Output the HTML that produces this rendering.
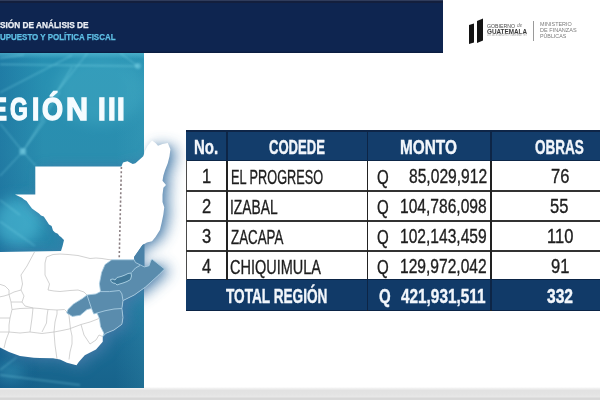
<!DOCTYPE html>
<html><head><meta charset="utf-8">
<style>
*{margin:0;padding:0;box-sizing:border-box}
html,body{width:600px;height:400px;overflow:hidden;background:#fff}
body{position:relative;font-family:"Liberation Sans",Arial,sans-serif}
.abs{position:absolute}
.t{position:absolute;white-space:nowrap;transform-origin:0 0;line-height:1}
</style></head><body>
<div class="abs" style="left:0;top:0;width:443px;height:53px;background:#0e2550"></div>
<div class="abs" style="left:0;top:0;width:443px;height:1px;background:#2f3c5c"></div>
<div class="abs" style="left:0;top:1px;width:443px;height:1.5px;background:#131f3d"></div>
<div class="abs" style="left:0;top:50.5px;width:443px;height:2.5px;background:linear-gradient(180deg,rgba(8,24,56,0) 0%,rgba(8,24,56,0.8) 100%)"></div>
<div class="abs" style="left:0;top:386.6px;width:600px;height:13.4px;background:linear-gradient(180deg,#ffffff 0px,#f2f2f2 1.2px,#e2e2e2 3.5px,#e3e3e3 7px,#e7e7e7 9.5px,#d7d7d7 11.5px,#dadada 14px)"></div>
<svg class="abs" style="left:0;top:0" width="600" height="400" viewBox="0 0 600 400">
<defs>
<filter id="sh" x="-50%" y="-50%" width="200%" height="200%"><feGaussianBlur stdDeviation="7"/></filter>
<filter id="sh2" x="-50%" y="-50%" width="200%" height="200%"><feGaussianBlur stdDeviation="2.5"/></filter>
<filter id="gl" x="-50%" y="-50%" width="200%" height="200%"><feGaussianBlur stdDeviation="1.2"/></filter>
<filter id="gl3" x="-50%" y="-50%" width="200%" height="200%"><feGaussianBlur stdDeviation="7"/></filter>
<clipPath id="pc"><rect x="0" y="53" width="144" height="335"/></clipPath>
<linearGradient id="pg" x1="0" y1="0" x2="0" y2="1">
<stop offset="0" stop-color="#2790b2"/><stop offset="0.3" stop-color="#2a8eaf"/>
<stop offset="0.6" stop-color="#2583a8"/><stop offset="0.85" stop-color="#1b6c95"/><stop offset="1" stop-color="#17638b"/>
</linearGradient>
<linearGradient id="pl" x1="0" y1="0" x2="1" y2="0">
<stop offset="0" stop-color="#0b4a86" stop-opacity="0.28"/><stop offset="0.3" stop-color="#0b4a86" stop-opacity="0"/>
<stop offset="0.8" stop-color="#5fc0d0" stop-opacity="0"/><stop offset="1" stop-color="#5fc0d0" stop-opacity="0.12"/>
</linearGradient>
<linearGradient id="ptop" x1="0" y1="0" x2="0" y2="1"><stop offset="0" stop-color="#6fd0e4" stop-opacity="0.45"/><stop offset="1" stop-color="#6fd0e4" stop-opacity="0"/></linearGradient>
</defs>
<g clip-path="url(#pc)">
<rect x="0" y="53" width="144" height="335" fill="url(#pg)"/>
<rect x="0" y="53" width="144" height="335" fill="url(#pl)"/>
<rect x="0" y="53" width="144" height="6" fill="url(#ptop)"/>
<ellipse cx="100" cy="90" rx="45" ry="35" fill="#5cc4d6" opacity="0.25" filter="url(#gl3)"/>
<ellipse cx="18" cy="222" rx="24" ry="24" fill="#52c8e0" opacity="0.55" filter="url(#gl3)"/>
<ellipse cx="10" cy="372" rx="14" ry="10" fill="#52c8e0" opacity="0.3" filter="url(#gl3)"/>
<g stroke="#8fe6f4" fill="none" stroke-width="0.9" opacity="0.55" filter="url(#gl)">
<line x1="0" y1="92.6" x2="72" y2="55.4"/><line x1="0" y1="58.4" x2="24" y2="54.8"/>
<line x1="0" y1="64.4" x2="138" y2="66.2"/><line x1="138" y1="66.2" x2="120" y2="53"/>
<line x1="87.6" y1="53" x2="50" y2="101"/><line x1="72" y1="67" x2="40" y2="120"/>
<line x1="22.75" y1="151.5" x2="0" y2="123.5"/><line x1="22.75" y1="151.5" x2="45.5" y2="120"/>
<line x1="22.75" y1="151.5" x2="0" y2="176"/><line x1="22.75" y1="151.5" x2="36" y2="166"/>
<line x1="22.75" y1="151.5" x2="60" y2="92"/>
<line x1="0" y1="221.5" x2="35" y2="246"/><line x1="0" y1="200" x2="20" y2="215"/>
<line x1="0" y1="370" x2="17" y2="357"/><line x1="0" y1="375" x2="80" y2="385"/>
</g>
<circle cx="138" cy="66" r="3" fill="#9ff0ff" opacity="0.35" filter="url(#gl)"/>
<circle cx="22.75" cy="151.5" r="3.5" fill="#9ff0ff" opacity="0.4" filter="url(#gl)"/>
</g>
<polygon points="35.30,166.50 121.40,166.50 123.00,162.40 127.50,161.20 132.75,164.10 135.40,163.25 143.25,156.25 145.00,151.00 147.60,145.75 152.00,140.50 155.50,143.00 158.00,145.75 162.50,144.00 167.75,143.00 170.40,149.25 169.50,156.25 167.75,163.25 165.00,170.25 163.40,175.50 162.50,180.75 166.00,185.00 163.40,187.75 162.50,194.75 162.50,202.00 164.25,207.25 163.40,214.25 161.60,223.00 159.90,230.00 155.50,237.00 152.00,241.25 146.90,242.50 142.50,245.00 134.00,257.00 134.50,261.00 135.40,262.40 144.40,266.90 149.00,265.75 151.00,260.00 152.50,259.50 164.60,269.00 159.00,274.75 145.50,287.00 134.25,295.00 123.00,300.60 121.90,308.50 123.00,317.50 121.90,324.25 114.00,330.00 106.00,333.25 102.75,336.60 102.75,341.75 96.00,349.60 84.75,355.25 78.75,361.90 76.50,365.25 67.00,362.70 60.00,359.50 53.00,358.20 40.00,358.00 33.75,357.80 20.00,356.00 9.00,352.00 -2.00,346.50 -2.00,252.00 61.00,251.00 62.50,246.25 64.00,240.00 61.00,236.90 59.50,236.00 57.80,233.75 55.00,232.50 53.00,230.60 51.60,226.00 49.00,224.50 46.90,221.25 43.75,216.60 41.00,215.50 39.00,213.40 34.40,210.30 32.00,208.50 29.70,205.60 26.50,201.00 24.00,199.50 21.90,197.80 15.00,194.50 35.30,194.50" fill="#4a7eab" opacity="0.85" filter="url(#sh)" transform="translate(6,2)"/>
<polygon points="35.30,166.50 121.40,166.50 123.00,162.40 127.50,161.20 132.75,164.10 135.40,163.25 143.25,156.25 145.00,151.00 147.60,145.75 152.00,140.50 155.50,143.00 158.00,145.75 162.50,144.00 167.75,143.00 170.40,149.25 169.50,156.25 167.75,163.25 165.00,170.25 163.40,175.50 162.50,180.75 166.00,185.00 163.40,187.75 162.50,194.75 162.50,202.00 164.25,207.25 163.40,214.25 161.60,223.00 159.90,230.00 155.50,237.00 152.00,241.25 146.90,242.50 142.50,245.00 134.00,257.00 134.50,261.00 135.40,262.40 144.40,266.90 149.00,265.75 151.00,260.00 152.50,259.50 164.60,269.00 159.00,274.75 145.50,287.00 134.25,295.00 123.00,300.60 121.90,308.50 123.00,317.50 121.90,324.25 114.00,330.00 106.00,333.25 102.75,336.60 102.75,341.75 96.00,349.60 84.75,355.25 78.75,361.90 76.50,365.25 67.00,362.70 60.00,359.50 53.00,358.20 40.00,358.00 33.75,357.80 20.00,356.00 9.00,352.00 -2.00,346.50 -2.00,252.00 61.00,251.00 62.50,246.25 64.00,240.00 61.00,236.90 59.50,236.00 57.80,233.75 55.00,232.50 53.00,230.60 51.60,226.00 49.00,224.50 46.90,221.25 43.75,216.60 41.00,215.50 39.00,213.40 34.40,210.30 32.00,208.50 29.70,205.60 26.50,201.00 24.00,199.50 21.90,197.80 15.00,194.50 35.30,194.50" fill="#3a6a98" opacity="0.2" filter="url(#sh2)" transform="translate(1.5,1)"/>
<polygon points="35.30,166.50 121.40,166.50 123.00,162.40 127.50,161.20 132.75,164.10 135.40,163.25 143.25,156.25 145.00,151.00 147.60,145.75 152.00,140.50 155.50,143.00 158.00,145.75 162.50,144.00 167.75,143.00 170.40,149.25 169.50,156.25 167.75,163.25 165.00,170.25 163.40,175.50 162.50,180.75 166.00,185.00 163.40,187.75 162.50,194.75 162.50,202.00 164.25,207.25 163.40,214.25 161.60,223.00 159.90,230.00 155.50,237.00 152.00,241.25 146.90,242.50 142.50,245.00 134.00,257.00 134.50,261.00 135.40,262.40 144.40,266.90 149.00,265.75 151.00,260.00 152.50,259.50 164.60,269.00 159.00,274.75 145.50,287.00 134.25,295.00 123.00,300.60 121.90,308.50 123.00,317.50 121.90,324.25 114.00,330.00 106.00,333.25 102.75,336.60 102.75,341.75 96.00,349.60 84.75,355.25 78.75,361.90 76.50,365.25 67.00,362.70 60.00,359.50 53.00,358.20 40.00,358.00 33.75,357.80 20.00,356.00 9.00,352.00 -2.00,346.50 -2.00,252.00 61.00,251.00 62.50,246.25 64.00,240.00 61.00,236.90 59.50,236.00 57.80,233.75 55.00,232.50 53.00,230.60 51.60,226.00 49.00,224.50 46.90,221.25 43.75,216.60 41.00,215.50 39.00,213.40 34.40,210.30 32.00,208.50 29.70,205.60 26.50,201.00 24.00,199.50 21.90,197.80 15.00,194.50 35.30,194.50" fill="#ffffff"/>
<polygon points="134,257.5 142.5,245 144.5,244 144.5,266.8 135.4,262.4 134.5,261" fill="#4a82a8"/>
<g stroke="#c6c6c6" stroke-width="0.8" fill="none" stroke-linejoin="round">
<polyline points="46.50,257.00 53.00,254.50 60.00,254.00 68.00,254.50 78.00,255.50 90.00,258.50 96.00,258.00 102.00,258.50 108.00,259.50 111.75,259.80"/>
<polyline points="46.50,257.00 45.00,263.00 45.00,275.00 49.50,284.00 48.00,290.00 54.00,291.00 60.00,291.50 70.00,290.50 78.00,290.00 84.00,292.00 87.00,295.00"/>
<polyline points="34.50,252.00 27.00,266.00 21.00,275.00 22.50,284.00 21.00,290.00 14.00,292.00 9.00,294.50 4.00,296.00 -1.00,297.00"/>
<polyline points="-1.00,284.00 5.00,286.00 9.00,290.00 9.00,294.50"/>
<polyline points="21.00,290.00 24.00,296.00 22.00,302.00 25.00,306.00 33.00,308.00"/>
<polyline points="12.00,309.50 20.00,308.50 33.00,308.00 40.00,308.50 48.00,309.50 57.00,310.00 64.50,309.50 67.00,312.00"/>
<polyline points="9.00,294.50 11.00,302.00 12.00,309.50 10.00,318.00 9.00,325.00 9.00,332.00 6.00,340.00 4.00,348.00"/>
<polyline points="33.00,308.00 32.00,318.00 30.00,332.00"/>
<polyline points="48.00,309.50 47.00,316.00 46.50,323.00 42.00,332.00"/>
<polyline points="57.00,310.00 57.00,314.00 55.00,322.00 54.00,332.00 55.00,345.00 57.00,359.00"/>
<polyline points="-1.00,332.00 9.00,332.00 20.00,333.00 30.00,332.00 42.00,333.50 54.00,332.00 62.00,330.50 69.00,329.00 81.00,324.50 90.00,322.00 99.00,318.50"/>
<polyline points="67.00,312.00 69.00,315.50 70.50,329.00 72.00,336.00 72.00,344.00 70.00,352.00 69.00,359.50"/>
<polyline points="81.00,324.50 84.00,335.00 90.00,344.00 96.00,340.00 99.00,335.00 102.75,336.60"/>
<polyline points="-1.00,318.00 10.00,318.00"/>
<polyline points="22.00,302.00 11.00,302.00"/>
</g>
<line x1="121.4" y1="167" x2="119.2" y2="259" stroke="#8a7f82" stroke-width="1.6" stroke-dasharray="2.1,2.1"/>
<polygon points="111.75,259.80 134.25,259.80 135.40,262.40 144.40,266.90 149.00,265.75 151.00,260.00 152.50,259.50 164.60,269.00 159.00,274.75 145.50,287.00 134.25,295.00 123.00,300.60 121.90,308.50 123.00,317.50 121.90,324.25 114.00,330.00 106.00,333.25 102.75,336.60 103.90,333.25 100.50,326.50 99.40,318.60 97.00,313.00 93.75,314.00 91.50,308.50 87.00,309.60 80.25,315.25 72.40,316.40 66.75,313.00 67.90,309.60 73.50,304.00 82.50,298.40 87.00,295.00 96.00,293.90 100.50,291.60 99.40,283.75 101.60,272.50 105.00,264.60" fill="#5a8cad" stroke="#a9cde2" stroke-width="0.8" stroke-linejoin="round"/>
<g stroke="#a9cde2" stroke-width="0.9" fill="none" stroke-linejoin="round">
<polyline points="100.50,291.60 109.50,291.60 119.60,290.50 121.90,293.90 123.00,300.60"/>
<polyline points="87.00,295.00 89.25,301.75 91.50,308.50"/>
<polyline points="97.00,313.00 105.00,310.75 114.00,309.00 121.90,308.50"/>
<polyline points="131.50,272.50 135.50,268.00 140.00,265.50"/>
</g>
<polygon points="110.50,279.50 113.00,279.00 115.00,280.00 117.00,277.50 121.00,276.50 125.00,275.00 128.00,273.50 131.00,273.00 131.50,276.00 130.50,279.50 127.00,281.50 123.00,283.00 119.00,284.20 117.00,285.00 115.50,283.50 113.00,283.00 111.00,281.50" fill="#41799a" stroke="#a5cce0" stroke-width="1"/>
</svg>
<div class="abs" style="left:185.5px;top:131px;width:415px;height:29.5px;background:#133d6b"></div>
<div class="abs" style="left:185.5px;top:279.3px;width:415px;height:31.2px;background:#113a68"></div>
<div class="abs" style="left:185.5px;top:279.3px;width:415px;height:0.9px;background:#0b2446"></div>
<div class="abs" style="left:185.5px;top:309.6px;width:415px;height:1px;background:#0b2446"></div>
<div class="abs" style="left:185.5px;top:159.6px;width:415px;height:1px;background:#0d2748"></div>
<div class="abs" style="left:185.5px;top:130px;width:415px;height:1.5px;background:#0e2547"></div>
<div class="abs" style="left:185.5px;top:160px;width:1.2px;height:120px;background:#4a4a4a"></div>
<div class="abs" style="left:186px;top:190.3px;width:414px;height:1.3px;background:#333"></div>
<div class="abs" style="left:186px;top:220.3px;width:414px;height:1.3px;background:#333"></div>
<div class="abs" style="left:186px;top:250.3px;width:414px;height:1.3px;background:#333"></div>
<div class="abs" style="left:226.3px;top:131px;width:1.4px;height:149px;background:#222"></div>
<div class="abs" style="left:366.6px;top:131px;width:1.4px;height:180px;background:#222"></div>
<div class="abs" style="left:490.3px;top:131px;width:1.4px;height:180px;background:#222"></div>
<div class="abs" style="left:226.3px;top:131px;width:1.4px;height:30px;background:#0d2546"></div>
<div class="abs" style="left:366.6px;top:131px;width:1.4px;height:30px;background:#0d2546"></div>
<div class="abs" style="left:490.3px;top:131px;width:1.4px;height:30px;background:#0d2546"></div>
<div class="abs" style="left:366.6px;top:279.3px;width:1.4px;height:31px;background:#0d2546"></div>
<div class="abs" style="left:490.3px;top:279.3px;width:1.4px;height:31px;background:#0d2546"></div>
<div class="abs" style="left:468.6px;top:24.9px;width:5.4px;height:18.6px;background:#141414;transform:skewY(-18deg);transform-origin:0 0"></div>
<div class="abs" style="left:477px;top:20.8px;width:5.8px;height:22px;background:#141414;transform:skewY(-22deg);transform-origin:0 0"></div>
<div class="abs" style="left:533.3px;top:21px;width:1.1px;height:20.4px;background:#9a9a9a"></div>
<div class="t" style="left:516.6px;top:23.4px;font-family:'Liberation Serif',serif;font-style:italic;font-size:5.6px;color:#777;transform:scaleX(0.999)">de</div>
<div class="t" style="left:0.30px;top:20.96px;font-size:8.41px;font-weight:bold;color:#eef1f6;transform:scaleX(0.986);-webkit-text-stroke:0.25px #eef1f6">SIÓN DE ANÁLISIS DE</div>
<div class="t" style="left:0.30px;top:32.89px;font-size:8.84px;font-weight:bold;color:#5fc0e5;transform:scaleX(0.901);-webkit-text-stroke:0.25px #5fc0e5">UPUESTO Y POLÍTICA FISCAL</div>
<div class="t" style="left:194.28px;top:136.76px;font-size:20.87px;font-weight:bold;color:#f2f6fb;transform:scaleX(0.719);-webkit-text-stroke:0.4px #f2f6fb">No.</div>
<div class="t" style="left:268.67px;top:136.56px;font-size:20.87px;font-weight:bold;color:#f2f6fb;transform:scaleX(0.627);-webkit-text-stroke:0.4px #f2f6fb">CODEDE</div>
<div class="t" style="left:400.26px;top:136.56px;font-size:20.87px;font-weight:bold;color:#f2f6fb;transform:scaleX(0.737);-webkit-text-stroke:0.4px #f2f6fb">MONTO</div>
<div class="t" style="left:535.35px;top:136.56px;font-size:20.87px;font-weight:bold;color:#f2f6fb;transform:scaleX(0.649);-webkit-text-stroke:0.4px #f2f6fb">OBRAS</div>
<div class="t" style="left:201.88px;top:166.95px;font-size:19.71px;color:#1e1e1e;transform:scaleX(0.840);-webkit-text-stroke:0.35px #1e1e1e">1</div>
<div class="t" style="left:230.57px;top:166.65px;font-size:20.29px;color:#1e1e1e;transform:scaleX(0.627);-webkit-text-stroke:0.35px #1e1e1e">EL PROGRESO</div>
<div class="t" style="left:377.46px;top:166.65px;font-size:20.29px;color:#1e1e1e;transform:scaleX(0.743);-webkit-text-stroke:0.35px #1e1e1e">Q</div>
<div class="t" style="left:408.61px;top:166.95px;font-size:19.71px;color:#1e1e1e;transform:scaleX(0.793);-webkit-text-stroke:0.35px #1e1e1e">85,029,912</div>
<div class="t" style="left:550.76px;top:166.95px;font-size:19.71px;color:#1e1e1e;transform:scaleX(0.840);-webkit-text-stroke:0.35px #1e1e1e">76</div>
<div class="t" style="left:201.88px;top:196.95px;font-size:19.71px;color:#1e1e1e;transform:scaleX(0.840);-webkit-text-stroke:0.35px #1e1e1e">2</div>
<div class="t" style="left:229.84px;top:196.65px;font-size:20.29px;color:#1e1e1e;transform:scaleX(0.681);-webkit-text-stroke:0.35px #1e1e1e">IZABAL</div>
<div class="t" style="left:377.46px;top:196.65px;font-size:20.29px;color:#1e1e1e;transform:scaleX(0.743);-webkit-text-stroke:0.35px #1e1e1e">Q</div>
<div class="t" style="left:400.01px;top:196.95px;font-size:19.71px;color:#1e1e1e;transform:scaleX(0.792);-webkit-text-stroke:0.35px #1e1e1e">104,786,098</div>
<div class="t" style="left:550.34px;top:196.95px;font-size:19.71px;color:#1e1e1e;transform:scaleX(0.840);-webkit-text-stroke:0.35px #1e1e1e">55</div>
<div class="t" style="left:201.88px;top:226.95px;font-size:19.71px;color:#1e1e1e;transform:scaleX(0.840);-webkit-text-stroke:0.35px #1e1e1e">3</div>
<div class="t" style="left:231.20px;top:226.65px;font-size:20.29px;color:#1e1e1e;transform:scaleX(0.657);-webkit-text-stroke:0.35px #1e1e1e">ZACAPA</div>
<div class="t" style="left:377.46px;top:226.65px;font-size:20.29px;color:#1e1e1e;transform:scaleX(0.743);-webkit-text-stroke:0.35px #1e1e1e">Q</div>
<div class="t" style="left:400.01px;top:226.95px;font-size:19.71px;color:#1e1e1e;transform:scaleX(0.792);-webkit-text-stroke:0.35px #1e1e1e">102,143,459</div>
<div class="t" style="left:546.56px;top:226.95px;font-size:19.71px;color:#1e1e1e;transform:scaleX(0.840);-webkit-text-stroke:0.35px #1e1e1e">110</div>
<div class="t" style="left:201.88px;top:256.95px;font-size:19.71px;color:#1e1e1e;transform:scaleX(0.840);-webkit-text-stroke:0.35px #1e1e1e">4</div>
<div class="t" style="left:230.49px;top:256.65px;font-size:20.29px;color:#1e1e1e;transform:scaleX(0.715);-webkit-text-stroke:0.35px #1e1e1e">CHIQUIMULA</div>
<div class="t" style="left:377.46px;top:256.65px;font-size:20.29px;color:#1e1e1e;transform:scaleX(0.743);-webkit-text-stroke:0.35px #1e1e1e">Q</div>
<div class="t" style="left:400.01px;top:256.95px;font-size:19.71px;color:#1e1e1e;transform:scaleX(0.792);-webkit-text-stroke:0.35px #1e1e1e">129,972,042</div>
<div class="t" style="left:550.76px;top:256.95px;font-size:19.71px;color:#1e1e1e;transform:scaleX(0.840);-webkit-text-stroke:0.35px #1e1e1e">91</div>
<div class="t" style="left:226.20px;top:285.86px;font-size:20.87px;font-weight:bold;color:#f2f6fb;transform:scaleX(0.653);-webkit-text-stroke:0.4px #f2f6fb">TOTAL REGIÓN</div>
<div class="t" style="left:378.98px;top:285.86px;font-size:20.87px;font-weight:bold;color:#f2f6fb;transform:scaleX(0.720);-webkit-text-stroke:0.4px #f2f6fb">Q</div>
<div class="t" style="left:401.00px;top:286.10px;font-size:20.00px;font-weight:bold;color:#f2f6fb;transform:scaleX(0.767);-webkit-text-stroke:0.4px #f2f6fb">421,931,511</div>
<div class="t" style="left:547.00px;top:286.10px;font-size:20.00px;font-weight:bold;color:#f2f6fb;transform:scaleX(0.779);-webkit-text-stroke:0.4px #f2f6fb">332</div>
<div class="t" style="left:540.30px;top:22.53px;font-size:4.78px;color:#7a7a7a;transform:scaleX(1.143);">MINISTERIO</div>
<div class="t" style="left:540.30px;top:28.39px;font-size:5.07px;color:#7a7a7a;transform:scaleX(1.094);">DE FINANZAS</div>
<div class="t" style="left:540.30px;top:34.39px;font-size:5.07px;color:#7a7a7a;transform:scaleX(1.048);">PÚBLICAS</div>
<div class="t" style="left:487.00px;top:24.51px;font-size:4.93px;color:#4a4a4a;transform:scaleX(1.056);">GOBIERNO</div>
<div class="t" style="left:487.00px;top:28.53px;font-size:6.67px;font-weight:bold;color:#383838;transform:scaleX(0.952);">GUATEMALA</div>
<div class="t" style="left:487.00px;top:34.98px;font-size:2.61px;color:#aaa;transform:scaleX(1.054);">DR. ALEJANDRO GIAMMATTEI</div>
<div class="t" style="left:0;top:93.70px;font-size:30.43px;font-weight:bold;color:#f6fcff;-webkit-text-stroke:1.4px #f6fcff"><span style="display:inline-block;width:0;position:relative;left:-7.52px;transform:scaleX(0.733);transform-origin:0 0">E</span><span style="display:inline-block;width:0;position:relative;left:9.60px;transform:scaleX(0.752);transform-origin:0 0">G</span><span style="display:inline-block;width:0;position:relative;left:32.13px;transform:scaleX(0.860);transform-origin:0 0">I</span><span style="display:inline-block;width:0;position:relative;left:41.71px;transform:scaleX(0.889);transform-origin:0 0">Ó</span><span style="display:inline-block;width:0;position:relative;left:66.09px;transform:scaleX(1.003);transform-origin:0 0">N</span></div>
<div class="t" style="left:0;top:93.70px;font-size:30.43px;font-weight:bold;color:#f6fcff;-webkit-text-stroke:1.4px #f6fcff"><span style="display:inline-block;width:0;position:relative;left:97.78px;transform:scaleX(0.910);transform-origin:0 0">I</span><span style="display:inline-block;width:0;position:relative;left:108.28px;transform:scaleX(0.910);transform-origin:0 0">I</span><span style="display:inline-block;width:0;position:relative;left:117.28px;transform:scaleX(0.910);transform-origin:0 0">I</span></div>
</body></html>
